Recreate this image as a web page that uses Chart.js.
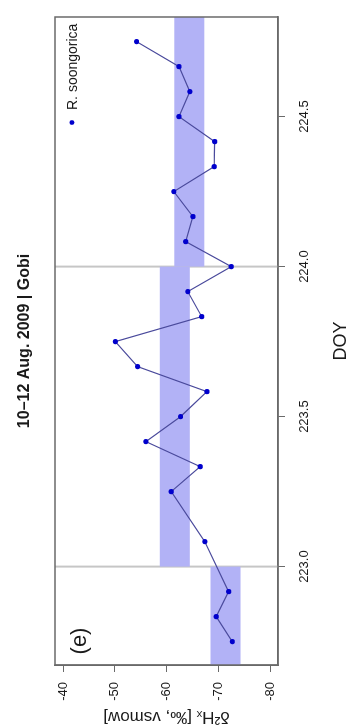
<!DOCTYPE html>
<html><head><meta charset="utf-8">
<script src="https://cdn.jsdelivr.net/npm/chart.js@4"></script>
<style>
html,body{margin:0;padding:0;background:#fff;overflow:hidden;width:354px;height:728px;}
#wrap{position:absolute;left:0;top:0;width:728px;height:354px;transform-origin:0 0;transform:translate(0,728px) rotate(-90deg);}
</style></head><body>
<div id="wrap"><canvas id="c" width="728" height="354"></canvas></div>
<script>
// ---- data ----
const doy = [222.75, 222.8333, 222.9167, 223.0833, 223.25, 223.3333, 223.4167, 223.5, 223.5833, 223.6667, 223.75, 223.8333, 223.9167, 224.0, 224.0833, 224.1667, 224.25, 224.3333, 224.4167, 224.5, 224.5833, 224.6667, 224.75];
const d2H = [-72.7, -69.6, -72.0, -67.4, -60.9, -66.5, -56.0, -62.7, -67.8, -54.4, -50.1, -66.8, -64.1, -72.5, -63.7, -65.1, -61.4, -69.2, -69.3, -62.4, -64.5, -62.4, -54.2];
const seriesLabel = 'R. soongorica';
const xTicks = [223.0, 223.5, 224.0, 224.5];
const yTicks = [-40, -50, -60, -70, -80];
const bandDay = [222, 223, 224];
const bandLow = [-74.3, -64.5, -67.3];
const bandHigh = [-68.5, -58.7, -61.5];
const dayBreaks = [223, 224];
const xRange = [222.672, 224.832];
const yRange = [-81.54, -38.45];

const FONT = "'Liberation Sans', Arial, Helvetica, sans-serif";
Chart.defaults.font.family = FONT;
Chart.defaults.color = '#1a1a1a';

const overlay = {
  id: 'overlay',
  beforeDatasetsDraw(chart) {
    const {ctx, chartArea: a, scales: {x, y}} = chart;
    ctx.save();
    ctx.beginPath(); ctx.rect(a.left, a.top, a.right - a.left, a.bottom - a.top); ctx.clip();
    // day separators
    ctx.strokeStyle = '#c6c6c6'; ctx.lineWidth = 2;
    dayBreaks.forEach(d => {
      const px = x.getPixelForValue(d);
      ctx.beginPath(); ctx.moveTo(px, a.top); ctx.lineTo(px, a.bottom); ctx.stroke();
    });
    // daily bands
    ctx.fillStyle = '#b2b2f6';
    bandDay.forEach((d, i) => {
      const x0 = x.getPixelForValue(d), x1 = x.getPixelForValue(d + 1);
      const y0 = y.getPixelForValue(bandHigh[i]), y1 = y.getPixelForValue(bandLow[i]);
      ctx.fillRect(x0, y0, x1 - x0, y1 - y0);
    });
    ctx.restore();
  },
  afterDraw(chart) {
    const {ctx, chartArea: a} = chart;
    ctx.save();
    ctx.strokeStyle = '#6a6a6a'; ctx.lineWidth = 1.5;
    ctx.strokeRect(a.left, a.top, a.right - a.left, a.bottom - a.top);
    // legend
    ctx.fillStyle = '#0000cc';
    ctx.beginPath(); ctx.arc(605.5, 72, 2.4, 0, Math.PI * 2); ctx.fill();
    ctx.fillStyle = '#1a1a1a';
    ctx.font = '14px ' + FONT; ctx.textBaseline = 'middle'; ctx.textAlign = 'left';
    ctx.fillText(seriesLabel, 618, 73);
    // panel tag
    ctx.font = '22px ' + FONT; ctx.textAlign = 'center';
    ctx.fillText('(e)', 87, 80);
    ctx.restore();
  }
};

new Chart(document.getElementById('c'), {
  type: 'scatter',
  data: {
    datasets: [{
      label: seriesLabel,
      data: doy.map((d, i) => ({x: d, y: d2H[i]})),
      showLine: true,
      borderColor: '#4a4a9c',
      borderWidth: 1.2,
      pointRadius: 2.6,
      pointBackgroundColor: '#0000cc',
      pointBorderColor: '#0000cc',
      pointBorderWidth: 0,
      tension: 0
    }]
  },
  options: {
    responsive: false,
    animation: false,
    devicePixelRatio: 1,
    layout: {padding: {left: 0, right: 17, top: 0, bottom: 0}},
    plugins: {
      legend: {display: false},
      tooltip: {enabled: false},
      title: {
        display: true, fullSize: false,
        text: '10–12 Aug. 2009 | Gobi',
        font: {size: 16, weight: 'bold'}, color: '#1a1a1a',
        padding: {top: 15.4, bottom: 20.4}
      }
    },
    scales: {
      x: {
        type: 'linear', position: 'bottom', min: xRange[0], max: xRange[1],
        afterBuildTicks: s => { s.ticks = xTicks.map(v => ({value: v})); },
        afterFit: s => { s.height = 76; },
        ticks: {callback: v => v.toFixed(1), font: {size: 13}, color: '#1a1a1a', padding: 12, maxRotation: 0, autoSkip: false},
        grid: {drawOnChartArea: false, drawTicks: true, tickLength: 7, color: '#6a6a6a', lineWidth: 1},
        border: {display: true, color: '#6a6a6a', width: 1.5},
        title: {display: true, text: 'DOY', font: {size: 18}, color: '#1a1a1a', padding: {top: 0, bottom: 2}}
      },
      y: {
        type: 'linear', position: 'left', min: yRange[0], max: yRange[1],
        afterBuildTicks: s => { s.ticks = yTicks.map(v => ({value: v})); },
        afterFit: s => { s.width = 63; },
        ticks: {callback: v => String(v), font: {size: 13}, color: '#1a1a1a', padding: 10, autoSkip: false},
        grid: {drawOnChartArea: false, drawTicks: true, tickLength: 7, color: '#6a6a6a', lineWidth: 1},
        border: {display: true, color: '#6a6a6a', width: 1.5},
        title: {display: true, text: 'δ²Hₓ [‰, vsmow]', font: {size: 17}, color: '#1a1a1a', padding: {top: 1, bottom: 0}}
      }
    }
  },
  plugins: [overlay]
});
</script>
</body></html>
